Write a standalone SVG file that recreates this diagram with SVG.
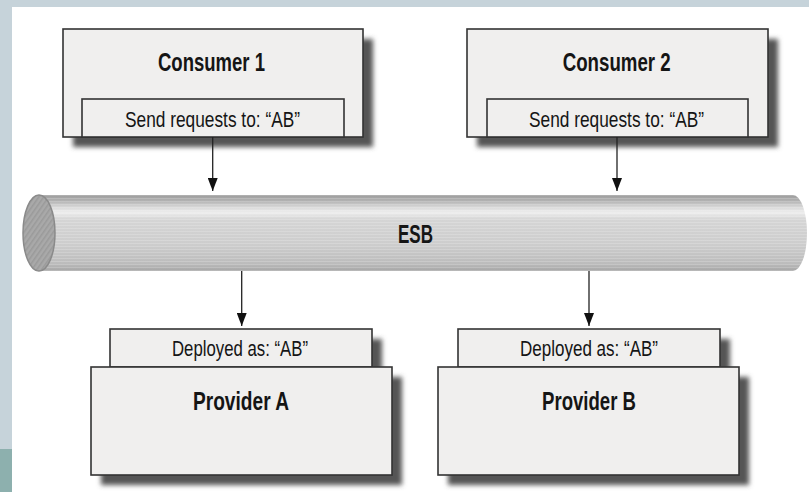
<svg xmlns="http://www.w3.org/2000/svg" width="809" height="492" viewBox="0 0 809 492">
  <style>
    .box { fill: #f0efee; stroke: #333; stroke-width: 1.6; }
    .shadow { fill: #555; filter: url(#soft); }
    .title { font-family: "Liberation Sans", Arial, sans-serif; font-weight: bold; font-size: 25px; fill: #151515; text-anchor: middle; }
    .label { font-family: "Liberation Sans", Arial, sans-serif; font-size: 21.5px; fill: #151515; text-anchor: middle; }
    .wire { stroke: #222; stroke-width: 1.3; fill: none; marker-end: url(#head); }
  </style>
  <defs>
    <filter id="soft" x="-10%" y="-20%" width="120%" height="140%">
      <feGaussianBlur stdDeviation="2.8"/>
    </filter>
    <marker id="head" markerWidth="13" markerHeight="10" refX="13" refY="5" orient="auto" markerUnits="userSpaceOnUse" viewBox="0 0 13 10">
      <path d="M0,0 L13,5 L0,10 Z" fill="#111"/>
    </marker>
    <linearGradient id="pipe" x1="0" y1="195" x2="0" y2="271" gradientUnits="userSpaceOnUse">
      <stop offset="0" stop-color="#9c9c9c"/>
      <stop offset="0.08" stop-color="#b3b3b3"/>
      <stop offset="0.16" stop-color="#d8d8d8"/>
      <stop offset="0.23" stop-color="#ededed"/>
      <stop offset="0.32" stop-color="#d5d5d5"/>
      <stop offset="0.65" stop-color="#cdcdcd"/>
      <stop offset="0.9" stop-color="#bcbcbc"/>
      <stop offset="1" stop-color="#a6a6a6"/>
    </linearGradient>
    <pattern id="lines" width="4" height="3" patternUnits="userSpaceOnUse">
      <rect width="4" height="1" fill="#ffffff" opacity="0.18"/>
    </pattern>
    <pattern id="hatch" width="4" height="4" patternUnits="userSpaceOnUse" patternTransform="rotate(35)">
      <rect width="4" height="4" fill="#a9a9a9"/>
      <rect width="1.5" height="4" fill="#9a9a9a"/>
    </pattern>
  </defs>

  <!-- page frame -->
  <rect x="0" y="0" width="809" height="492" fill="#ffffff"/>
  <rect x="0" y="0" width="809" height="7" fill="#c6d3da"/>
  <rect x="0" y="0" width="12" height="449" fill="#c6d3da"/>
  <rect x="0" y="449" width="12" height="43" fill="#8db0ae"/>

  <!-- ESB bus -->
  <g id="esb">
    <path d="M39,195 H793 A14,38 0 0 1 793,271 H39 Z" fill="url(#pipe)"/>
    <path d="M39,195 H793 A14,38 0 0 1 793,271 H39 Z" fill="url(#lines)"/>
    <ellipse cx="39" cy="233" rx="16" ry="38" fill="url(#hatch)" stroke="#8a8a8a" stroke-width="1.5"/>
    <text class="title" x="415.5" y="243" textLength="35" lengthAdjust="spacingAndGlyphs">ESB</text>
  </g>

  <!-- Consumer 1 -->
  <g id="consumer1">
    <rect class="shadow" x="73" y="39" width="300" height="108"/>
    <rect class="box" x="63" y="29" width="300" height="108"/>
    <rect class="box" x="82" y="99" width="262" height="38"/>
    <text class="title" x="211.5" y="71" textLength="107" lengthAdjust="spacingAndGlyphs">Consumer 1</text>
    <text class="label" x="212.5" y="127" textLength="175" lengthAdjust="spacingAndGlyphs">Send requests to: “AB”</text>
  </g>

  <!-- Consumer 2 -->
  <g id="consumer2">
    <rect class="shadow" x="477" y="39" width="301" height="108"/>
    <rect class="box" x="467" y="29" width="301" height="108"/>
    <rect class="box" x="487" y="99" width="261" height="38"/>
    <text class="title" x="616.7" y="71" textLength="108" lengthAdjust="spacingAndGlyphs">Consumer 2</text>
    <text class="label" x="616.5" y="127" textLength="175" lengthAdjust="spacingAndGlyphs">Send requests to: “AB”</text>
  </g>

  <!-- Provider A -->
  <g id="providerA">
    <rect class="shadow" x="120" y="339" width="262" height="38"/>
    <rect class="shadow" x="101" y="377" width="301" height="108"/>
    <rect class="box" x="110" y="329" width="262" height="38"/>
    <rect class="box" x="91" y="367" width="301" height="108"/>
    <text class="label" x="240" y="356" textLength="136" lengthAdjust="spacingAndGlyphs">Deployed as: “AB”</text>
    <text class="title" x="241" y="410" textLength="96" lengthAdjust="spacingAndGlyphs">Provider A</text>
  </g>

  <!-- Provider B -->
  <g id="providerB">
    <rect class="shadow" x="468" y="339" width="262" height="38"/>
    <rect class="shadow" x="448" y="377" width="301" height="108"/>
    <rect class="box" x="458" y="329" width="262" height="38"/>
    <rect class="box" x="438" y="367" width="301" height="108"/>
    <text class="label" x="589" y="356" textLength="138" lengthAdjust="spacingAndGlyphs">Deployed as: “AB”</text>
    <text class="title" x="589" y="410" textLength="94" lengthAdjust="spacingAndGlyphs">Provider B</text>
  </g>

  <!-- connectors -->
  <g id="connectors">
    <line class="wire" x1="212.7" y1="137" x2="212.7" y2="191"/>
    <line class="wire" x1="617" y1="137" x2="617" y2="191"/>
    <line class="wire" x1="241.7" y1="271" x2="241.7" y2="326"/>
    <line class="wire" x1="589" y1="271" x2="589" y2="326"/>
  </g>
</svg>
